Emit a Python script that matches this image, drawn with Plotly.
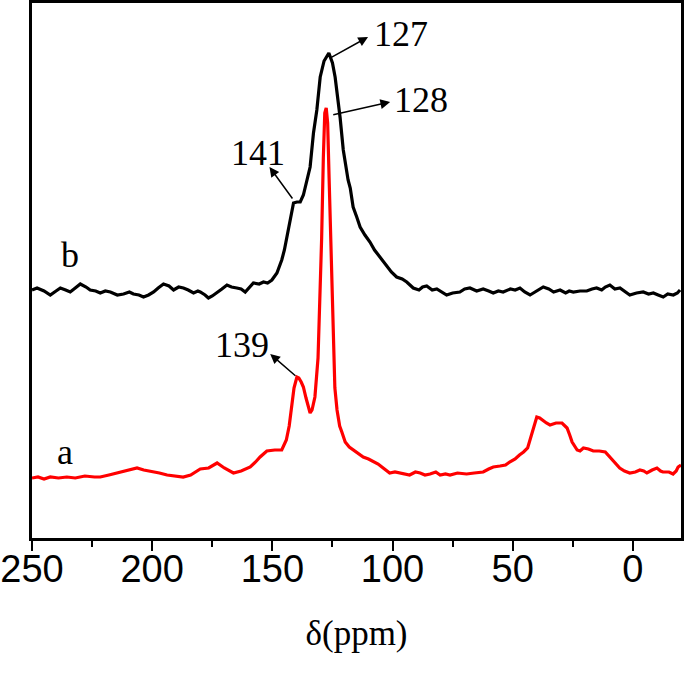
import plotly.graph_objects as go

# ---- data (ppm, intensity in arbitrary units) ----
ppm_a = [250.0, 247.5, 245.0, 242.4, 239.0, 235.5, 232.0, 228.0, 224.0, 221.6, 218.0, 214.5, 210.5, 206.3,
         203.5, 200.8, 197.0, 193.8, 190.5, 187.1, 184.0, 180.0, 176.5, 173.0, 170.0, 166.2, 163.0, 159.2,
         157.0, 155.1, 152.3, 149.0, 146.1, 144.2, 143.0, 142.1, 141.0, 139.8, 139.0, 138.0, 137.1, 136.0,
         135.0, 134.3, 133.5, 132.3, 131.0, 130.2, 129.5, 128.8, 128.2, 127.6, 127.0, 126.4, 125.6, 124.8,
         124.0, 123.1, 122.0, 121.1, 119.7, 118.0, 116.4, 114.0, 112.2, 110.0, 108.1, 106.0, 103.9, 101.2,
         99.0, 97.1, 95.0, 92.9, 90.5, 88.5, 86.5, 84.4, 82.0, 80.2, 78.0, 76.1, 73.0, 69.2, 66.0, 62.3,
         60.0, 58.1, 55.3, 53.0, 51.3, 49.0, 47.2, 45.5, 43.8, 42.5, 41.6, 40.0, 38.8, 37.4, 36.0, 34.5,
         32.0, 29.5, 27.4, 26.3, 25.3, 23.2, 22.0, 20.6, 18.5, 16.5, 14.0, 11.5, 10.0, 8.8, 7.0, 5.5, 3.5,
         1.3, -1.0, -2.9, -4.5, -5.8, -8.0, -10.0, -11.5, -12.5, -15.0, -16.7, -18.0, -18.8, -20.0]
int_a = [60, 61, 59, 61, 60, 61, 60, 62, 61, 61, 63, 65, 67, 70,
         68, 67, 65, 63, 62, 61, 63, 69, 70, 75, 70, 65, 67, 71,
         76, 81, 87, 88, 88, 98, 112, 131, 150, 161, 160, 156, 151, 140,
         130, 125, 128, 141, 180, 240, 300, 380, 425, 430, 415, 360, 280, 200,
         150, 128, 112, 106, 96, 91, 88, 84, 81, 79, 77, 74, 70, 65,
         66, 65, 64, 63, 66, 65, 63, 64, 66, 63, 64, 63, 65, 64, 65, 66,
         69, 71, 72, 73, 76, 79, 83, 86, 90, 100, 108, 121, 120, 117, 115, 113,
         115, 115, 110, 103, 96, 88, 87, 90, 89, 87, 87, 86, 82, 78, 74, 70, 67,
         65, 66, 68, 67, 65, 68, 70, 67, 66, 66, 64, 67, 71, 73]

ppm_b = [250.0, 247.9, 245.0, 242.4, 240.0, 238.2, 236.0, 234.1, 232.0, 229.9, 227.5, 225.8, 223.5, 221.6,
         219.5, 217.4, 214.5, 211.9, 209.5, 207.8, 205.5, 203.6, 201.5, 199.4, 197.5, 195.3, 193.0, 191.1,
         189.0, 187.0, 185.0, 182.8, 181.0, 180.0, 178.0, 176.6, 175.0, 173.1, 171.0, 168.9, 167.0, 164.8,
         163.0, 161.3, 159.5, 157.9, 155.5, 153.7, 152.0, 150.2, 148.1, 146.1, 145.0, 144.0, 142.5, 141.2,
         139.8, 138.4, 137.1, 135.5, 134.3, 132.9, 131.5, 130.1, 128.5, 126.5, 125.0, 123.9, 123.2, 121.8,
         120.5, 118.5, 117.6, 116.4, 114.9, 113.5, 111.5, 109.4, 107.5, 105.2, 102.5, 100.5, 98.3, 96.0,
         94.1, 92.5, 91.4, 89.0, 87.5, 85.8, 83.5, 81.6, 79.5, 77.5, 75.0, 72.0, 70.0, 67.8, 65.0, 62.3,
         60.0, 58.1, 56.0, 54.0, 51.0, 49.0, 47.0, 45.0, 42.8, 40.0, 37.3, 35.0, 33.0, 30.3, 28.0, 26.5,
         24.8, 22.0, 19.2, 17.0, 15.1, 13.0, 11.5, 9.6, 7.5, 5.4, 3.5, 1.3, -1.5, -4.3, -6.5, -8.5,
         -10.5, -12.6, -14.5, -16.8, -18.5, -19.6]
int_b = [248, 250, 247, 243, 247, 250, 248, 246, 250, 254, 251, 248, 247, 245,
         247, 246, 243, 244, 246, 244, 243, 241, 243, 246, 250, 254, 252, 248,
         251, 250, 248, 245, 247, 246, 243, 240, 242, 245, 249, 253, 251, 250,
         249, 246, 251, 255, 254, 256, 255, 258, 265, 278, 288, 301, 320, 335,
         336, 336, 343, 358, 371, 405, 428, 461, 477, 485, 475, 461, 448, 420,
         388, 358, 350, 331, 321, 311, 303, 296, 288, 281, 273, 266, 261, 259,
         256, 252, 250, 248, 251, 252, 248, 249, 246, 243, 245, 246, 249, 250, 247, 249,
         247, 245, 247, 246, 249, 248, 250, 246, 243, 247, 251, 249, 246, 248, 245, 247,
         246, 247, 247, 249, 250, 248, 251, 253, 249, 250, 247, 243, 245, 246, 244, 245,
         243, 241, 244, 243, 245, 248]

tick_vals = [250, 200, 150, 100, 50, 0]

# peak labels: (text, label x, label y, arrow head x, head y, arrow tail x, tail y)
peak_labels = [
    ("127", 108.4, 504, 110.2, 501, 125.9, 480),
    ("128", 100.2, 438, 101.0, 436, 125.3, 423),
    ("141", 155.9, 385, 151.2, 371, 141.2, 338),
    ("139", 162.6, 193, 150.9, 184, 139.8, 161),
]
curve_labels = [("b", 234.1, 283), ("a", 236.2, 86)]

fig = go.Figure()
fig.add_trace(go.Scatter(x=ppm_b, y=int_b, mode="lines", line=dict(color="black", width=3.2),
                         showlegend=False))
fig.add_trace(go.Scatter(x=ppm_a, y=int_a, mode="lines", line=dict(color="#ff0000", width=3.2),
                         showlegend=False))

serif = "Liberation Serif, Times New Roman, serif"
for txt, tx, ty, hx, hy, sx, sy in peak_labels:
    fig.add_annotation(x=hx, y=hy, ax=sx, ay=sy, xref="x", yref="y", axref="x", ayref="y",
                       text="", showarrow=True, arrowhead=2, arrowsize=1.3, arrowwidth=1.5,
                       arrowcolor="black")
    xa = "left" if txt in ("127", "128") else "center"
    fig.add_annotation(x=tx, y=ty, xref="x", yref="y", text=txt, showarrow=False,
                       xanchor=xa, yanchor="middle", font=dict(family=serif, size=36, color="black"))
for txt, tx, ty in curve_labels:
    fig.add_annotation(x=tx, y=ty, xref="x", yref="y", text=txt, showarrow=False,
                       xanchor="center", yanchor="middle", font=dict(family=serif, size=36, color="black"))

fig.update_layout(
    width=685, height=673,
    margin=dict(l=32, r=4, t=3, b=135, autoexpand=False),
    paper_bgcolor="white", plot_bgcolor="white",
    xaxis=dict(
        range=[250, -20], tickvals=tick_vals, ticktext=[str(v) for v in tick_vals],
        ticks="outside", ticklen=10, tickwidth=2, tickcolor="black",
        minor=dict(ticks="outside", ticklen=6, tickwidth=2, tickcolor="black",
                   tickvals=[225, 175, 125, 75, 25]),
        showline=True, linewidth=3, linecolor="black", mirror=True,
        showgrid=False, zeroline=False, automargin=False,
        ticklabelstandoff=-15,
        tickfont=dict(family="Liberation Sans, Arial, sans-serif", size=38, color="black"),
        title=dict(text="δ(ppm)", font=dict(family=serif, size=35, color="black"), standoff=32),
    ),
    yaxis=dict(
        range=[0, 535], showticklabels=False, ticks="",
        showline=True, linewidth=3, linecolor="black", mirror=True,
        showgrid=False, zeroline=False, automargin=False,
    ),
)

fig.write_html("out.html", config={"displayModeBar": False},
               post_script="document.body.style.margin='0';document.body.style.overflow='hidden';")
